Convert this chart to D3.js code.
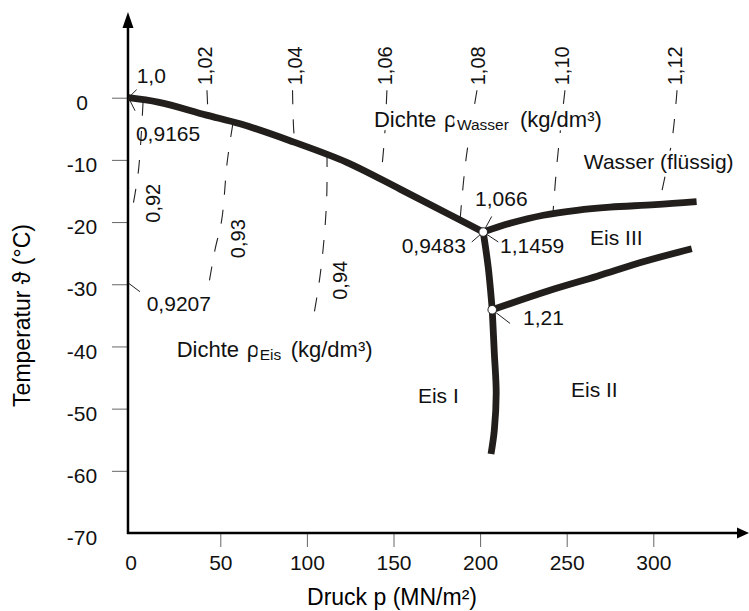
<!DOCTYPE html>
<html>
<head>
<meta charset="utf-8">
<title>Phasendiagramm Wasser / Eis</title>
<style>
  body { margin: 0; background: #fff; }
  svg { display: block; font-family: "Liberation Sans", Arial, sans-serif; }
  .tick line { stroke: #666; stroke-width: 1; }
  .tick text { font-size: 21px; fill: #111; }
  .axis-line { stroke: #000; stroke-width: 2.5; fill: none; }
  .boundary { fill: none; stroke: #221e1b; stroke-width: 6.8; stroke-linejoin: round; }
  .isoline { fill: none; stroke: #222; stroke-width: 1.1; stroke-dasharray: 14,15; }
  .leader { stroke: #222; stroke-width: 1; }
  .note { font-size: 21px; fill: #111; }
  .halo { paint-order: stroke; stroke: #fff; stroke-width: 7px; stroke-linejoin: round; }
</style>
</head>
<body>
<svg width="749" height="611"></svg>
<script src="https://cdn.jsdelivr.net/npm/d3@7"></script>
<script>
// Achsen
var pressureTicks = [0, 50, 100, 150, 200, 250, 300];
var temperatureTicks = [0, -10, -20, -30, -40, -50, -60, -70];

// Phasengrenzen [p (MN/m²), t (°C)]
var iceIWater = [[-3, 0], [14, -0.7], [42, -2.8], [61.4, -4.2], [92.1, -7.1], [123, -10.4],
  [153.8, -14.7], [184.5, -19.1], [201.8, -21.6]];
var iceIIceIII = [[201.8, -21.6], [204.7, -27.3], [207, -34.1]];
var iceIIceII = [[207, -34.1], [208.2, -41], [209.3, -47.5], [208.2, -53.5], [206.3, -57.3]];
var waterIceIII = [[201.8, -21.6], [217.3, -20.2], [236.5, -18.9], [255.8, -18.1], [275, -17.6],
  [301, -17.2], [325, -16.7]];
var iceIIIceII = [[207, -34.1], [240, -31.0], [267.6, -28.7], [295.2, -26.3], [322.2, -24.3]];
var triplePoints = [[201.8, -21.6], [207, -34.1]];

// Dichte Wasser (Linien gleicher Dichte)
var waterDensityLabels = ["1,02", "1,04", "1,06", "1,08", "1,10", "1,12"];
var waterDensityLines = [
  [[42.3, 1.2], [42.9, -2.7]],
  [[91.7, 1.2], [92.6, -5.9], [93.7, -7.4]],
  [[146.2, 1.2], [144.8, -6.5], [142.8, -12.6]],
  [[198.2, 1.2], [191.8, -10.0], [188.4, -19.8]],
  [[249, 1.2], [244.4, -10.5], [242.1, -18.5]],
  [[313.7, 1.2], [310.8, -6.8], [303.3, -17.1]]
];
var waterDensityLabelAt = [[45.2, 2], [97.2, 2], [149.1, 2], [202.8, 2], [251.3, 2], [316.6, 2]];

// Dichte Eis
var iceDensityLabels = ["0,92", "0,93", "0,94"];
var iceDensityLines = [
  [[5.4, -0.7], [2.8, -11.6], [-0.4, -17.3]],
  [[57.3, -4.1], [54, -10.3], [50.8, -19.7], [46.9, -24.5], [43, -30.6]],
  [[111.6, -8.9], [111.4, -16.4], [109.1, -25.1], [106.6, -30.6], [103.7, -35.4]]
];
var iceDensityLabelAt = [[15.2, -20.1], [64.3, -25.8], [123.1, -32.5]];

// Einzelwerte mit Hinweislinie
var pointLabels = ["1,0", "0,9165", "0,9207", "1,066", "0,9483", "1,1459", "1,21"];
var pointLabelAt = [[1.7, 2.4], [1.3, -7.0], [7.5, -34.3], [197.1, -17.4], [154.7, -25.0], [211.5, -25.0], [224.8, -36.6]];
var leaderFrom = [[-3, 0], [-2.1, -0.5], [-3.1, -29.8], [201.8, -21.6], [201.8, -21.6], [201.8, -21.6], [207, -34.1]];
var leaderTo = [[1.7, 1.3], [0.8, -2.1], [3.6, -31.2], [206.7, -19.1], [195.2, -23.2], [210.5, -23.2], [217.3, -36.3]];

// Bereiche
var regionLabels = ["Wasser (flüssig)", "Eis III", "Eis II", "Eis I"];
var regionLabelAt = [[259.9, -11.5], [263.5, -23.7], [252.5, -48.1], [164.1, -49.1]];

var svg = d3.select("svg");

var x = d3.scaleLinear().domain([0, 300]).range([133.7, 653.3]);
var y = d3.scaleLinear().domain([-70, 0]).range([533, 97.7]);

var x0 = x(-3.3), y0 = y(-70);

// y-Achse
var yAxis = svg.append("g")
  .attr("transform", "translate(" + x0 + ",0)")
  .call(d3.axisLeft(y).tickValues(temperatureTicks).tickSize(16).tickFormat(function(d) { return d; }));
yAxis.select(".domain").remove();
yAxis.selectAll(".tick").filter(function(d) { return d === -70; }).select("line").remove();
yAxis.selectAll(".tick text")
  .attr("x", -46).attr("dy", "0.32em").attr("text-anchor", "middle")
  .attr("transform", "translate(0,5)");

// x-Achse
var xAxis = svg.append("g")
  .attr("transform", "translate(0," + y0 + ")")
  .call(d3.axisBottom(x).tickValues(pressureTicks).tickSize(14).tickPadding(8));
xAxis.select(".domain").remove();
xAxis.selectAll(".tick").filter(function(d) { return d === 0; }).select("line").remove();
xAxis.selectAll(".tick").filter(function(d) { return d === 0; }).select("text").attr("x", -3);

// Achsenlinien mit Pfeilen
svg.append("line").attr("class", "axis-line")
  .attr("x1", x0).attr("y1", y0 + 1).attr("x2", x0).attr("y2", 26);
svg.append("path").attr("d", "M" + x0 + ",12 L" + (x0 - 5.5) + ",28 L" + (x0 + 5.5) + ",28 Z");
svg.append("line").attr("class", "axis-line")
  .attr("x1", x0 - 1).attr("y1", y0).attr("x2", 740).attr("y2", y0);
svg.append("path").attr("d", "M749," + y0 + " L737," + (y0 - 5.5) + " L737," + (y0 + 5.5) + " Z");

// Achsentitel
svg.append("text")
  .attr("x", 392).attr("y", 605).attr("text-anchor", "middle")
  .style("font-size", "23px").text("Druck p (MN/m²)");
svg.append("text")
  .attr("transform", "translate(30,315.5) rotate(-90)").attr("text-anchor", "middle")
  .style("font-size", "23px").text("Temperatur \u03D1 (°C)");

var line = d3.line()
  .x(function(d) { return x(d[0]); })
  .y(function(d) { return y(d[1]); })
  .curve(d3.curveCatmullRom.alpha(0.5));

// Isolinien
svg.selectAll(".iso-w").data(waterDensityLines).enter().append("path")
  .attr("class", "isoline").attr("d", line);
svg.selectAll(".iso-i").data(iceDensityLines).enter().append("path")
  .attr("class", "isoline").attr("d", line);

// Hinweislinien
svg.selectAll(".leader").data(pointLabels).enter().append("line")
  .attr("class", "leader")
  .attr("x1", function(d, i) { return x(leaderFrom[i][0]); })
  .attr("y1", function(d, i) { return y(leaderFrom[i][1]); })
  .attr("x2", function(d, i) { return x(leaderTo[i][0]); })
  .attr("y2", function(d, i) { return y(leaderTo[i][1]); });

// Beschriftungen mit weißem Rand (verdecken Striche)
function dichte(at, sub, offs) {
  var t = svg.append("text").attr("class", "halo")
    .attr("x", x(at[0])).attr("y", y(at[1])).style("font-size", "22px").style("fill", "#111");
  var px = x(at[0]);
  t.append("tspan").attr("x", px + offs[0]).text("Dichte");
  t.append("tspan").attr("x", px + offs[1]).text("\u03C1");
  t.append("tspan").attr("x", px + offs[2]).attr("dy", 3).style("font-size", "15.5px").text(sub);
  t.append("tspan").attr("x", px + offs[3]).attr("dy", -3).text("(kg/dm³)");
}
dichte([138.7, -4.7], "Wasser", [0, 70, 83, 146]);
dichte([24.8, -41.7], "Eis", [0, 70, 83, 114]);

svg.selectAll(".region").data(regionLabels).enter().append("text")
  .attr("class", "note halo")
  .attr("x", function(d, i) { return x(regionLabelAt[i][0]); })
  .attr("y", function(d, i) { return y(regionLabelAt[i][1]); })
  .text(function(d) { return d; });

svg.selectAll(".pl").data(pointLabels).enter().append("text")
  .attr("class", "note")
  .attr("x", function(d, i) { return x(pointLabelAt[i][0]); })
  .attr("y", function(d, i) { return y(pointLabelAt[i][1]); })
  .text(function(d) { return d; });

// gedrehte Dichtewerte
function rotated(labels, pos) {
  svg.selectAll(null).data(labels).enter().append("text")
    .attr("class", "note")
    .style("font-size", "20px")
    .attr("transform", function(d, i) {
      return "translate(" + x(pos[i][0]) + "," + y(pos[i][1]) + ") rotate(-90)";
    })
    .text(function(d) { return d; });
}
rotated(waterDensityLabels, waterDensityLabelAt);
rotated(iceDensityLabels, iceDensityLabelAt);

// Phasengrenzen
var smooth = d3.line()
  .x(function(d) { return x(d[0]); })
  .y(function(d) { return y(d[1]); })
  .curve(d3.curveMonotoneX);
svg.append("path").datum(iceIWater).attr("class", "boundary").attr("d", smooth);
[iceIIceIII, iceIIceII, waterIceIII, iceIIIceII].forEach(function(c) {
  svg.append("path").datum(c).attr("class", "boundary").attr("d", line);
});

// Tripelpunkte
svg.selectAll(".tp").data(triplePoints).enter().append("circle")
  .attr("cx", function(d) { return x(d[0]); })
  .attr("cy", function(d) { return y(d[1]); })
  .attr("r", 4.3)
  .attr("fill", "#fff").attr("stroke", "#222").attr("stroke-width", 1);
</script>
</body>
</html>
